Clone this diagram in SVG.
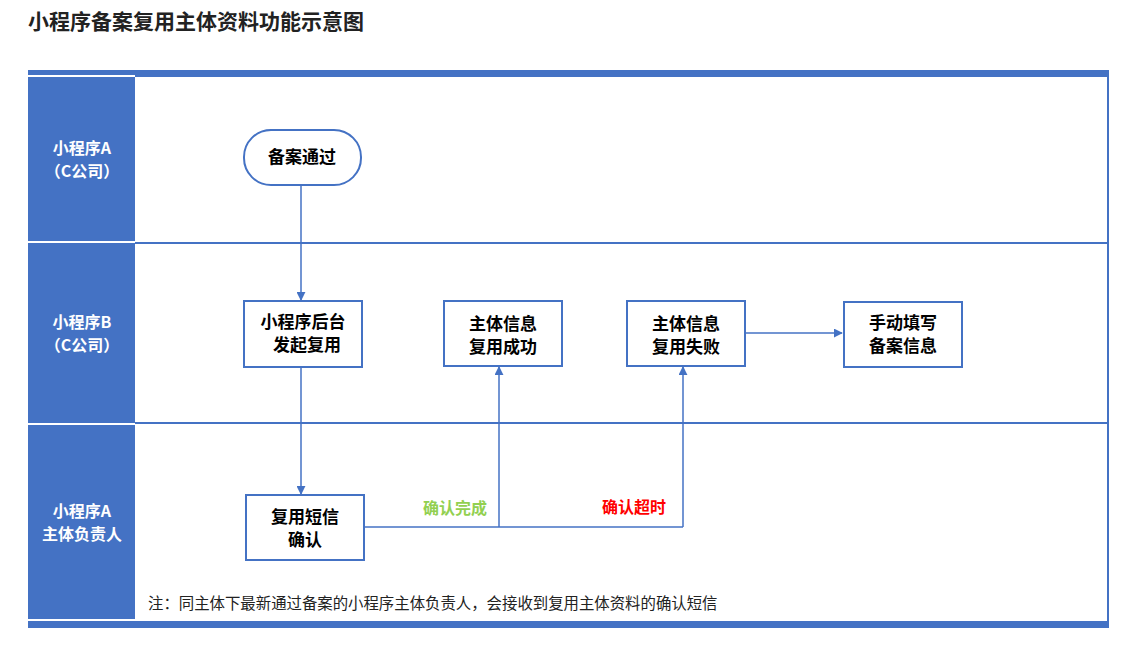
<svg xmlns="http://www.w3.org/2000/svg" width="1141" height="646" viewBox="0 0 1141 646">
<style>
text{font-family:"Noto Sans CJK SC","Liberation Sans",sans-serif}
.n{fill:#fff;stroke:#4472C4;stroke-width:2}
.t{font-size:17px;font-weight:bold;fill:#000;text-anchor:middle}
.h{font-size:16px;font-weight:bold;fill:#fff;text-anchor:middle}
.c{stroke:#4472C4;stroke-width:1.5;fill:none}
</style>
<defs><marker id="a" viewBox="0 0 10 10" refX="9" refY="5" markerWidth="6" markerHeight="6" orient="auto"><path d="M0,0L10,5L0,10z" fill="#4472C4"/></marker></defs>
<rect width="1141" height="646" fill="#fff"/>
<text x="28" y="29" font-size="21" font-weight="bold" fill="#222">小程序备案复用主体资料功能示意图</text>
<g id="lanes">
<rect x="28" y="70" width="1081" height="7" fill="#4472C4"/>
<rect x="28" y="621" width="1081" height="7" fill="#4472C4"/>
<line x1="1108" y1="76" x2="1108" y2="621" stroke="#4472C4" stroke-width="2"/>
<rect x="28" y="77" width="107" height="544" fill="#4472C4"/>
<line x1="28" y1="76" x2="135" y2="76" stroke="#fff" stroke-width="2"/>
<line x1="28" y1="242" x2="135" y2="242" stroke="#fff" stroke-width="2"/>
<line x1="28" y1="424" x2="135" y2="424" stroke="#fff" stroke-width="2"/>
<line x1="28" y1="620" x2="135" y2="620" stroke="#fff" stroke-width="2"/>
<line x1="135" y1="243" x2="1108" y2="243" stroke="#4472C4" stroke-width="2"/>
<line x1="135" y1="423" x2="1108" y2="423" stroke="#4472C4" stroke-width="2"/>
<text class="h" x="82" y="154">小程序A</text><text class="h" x="82" y="177">（C公司）</text>
<text class="h" x="82" y="328">小程序B</text><text class="h" x="82" y="351">（C公司）</text>
<text class="h" x="82" y="517">小程序A</text><text class="h" x="82" y="540">主体负责人</text>
</g>
<g id="n1"><rect class="n" x="244" y="130" width="117" height="55" rx="27"/><text class="t" x="302" y="163">备案通过</text></g>
<g id="n2"><rect class="n" x="244" y="301" width="118" height="66"/><text class="t" x="303" y="328">小程序后台</text><text class="t" x="307" y="351">发起复用</text></g>
<g id="n3"><rect class="n" x="444" y="301" width="118" height="65"/><text class="t" x="503" y="330">主体信息</text><text class="t" x="503" y="353">复用成功</text></g>
<g id="n4"><rect class="n" x="627" y="301" width="118" height="65"/><text class="t" x="686" y="330">主体信息</text><text class="t" x="686" y="353">复用失败</text></g>
<g id="n5"><rect class="n" x="844" y="302" width="118" height="65"/><text class="t" x="903" y="329">手动填写</text><text class="t" x="903" y="352">备案信息</text></g>
<g id="n6"><rect class="n" x="246" y="495" width="118" height="65"/><text class="t" x="305" y="523">复用短信</text><text class="t" x="305" y="546">确认</text></g>
<g id="connectors">
<line class="c" x1="301" y1="185" x2="301" y2="300" marker-end="url(#a)"/>
<line class="c" x1="301" y1="367" x2="301" y2="494" marker-end="url(#a)"/>
<polyline class="c" points="364,527 683,527"/>
<line class="c" x1="499" y1="527" x2="499" y2="367" marker-end="url(#a)"/>
<line class="c" x1="683" y1="527" x2="683" y2="367" marker-end="url(#a)"/>
<line class="c" x1="745" y1="333" x2="842" y2="333" marker-end="url(#a)"/>
<text x="455" y="514" font-size="16" font-weight="bold" fill="#92D050" text-anchor="middle">确认完成</text>
<text x="634" y="513" font-size="16" font-weight="bold" fill="#FF0000" text-anchor="middle">确认超时</text>
</g>
<text x="148" y="609" font-size="15.4" fill="#222">注：同主体下最新通过备案的小程序主体负责人，会接收到复用主体资料的确认短信</text>
</svg>
